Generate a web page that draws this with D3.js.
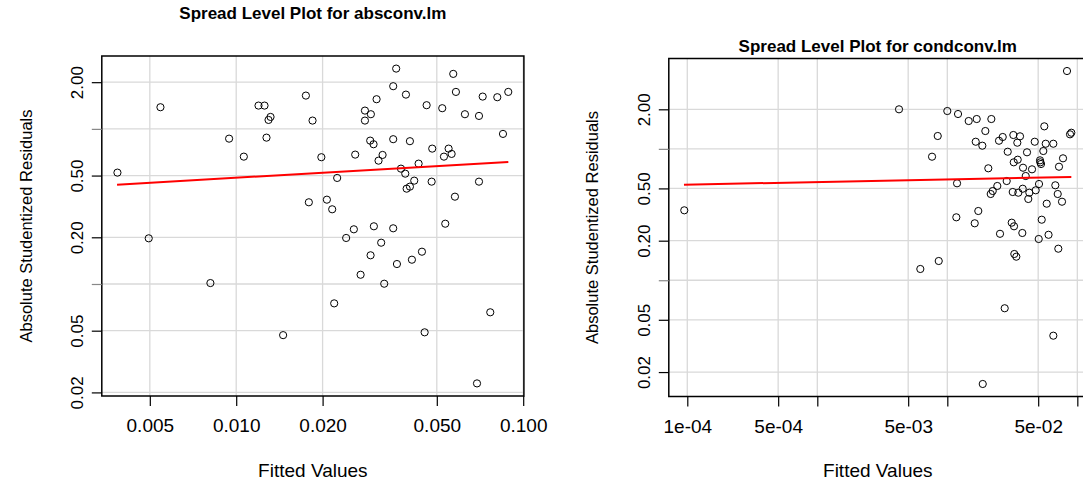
<!DOCTYPE html>
<html><head><meta charset="utf-8">
<script src="https://cdn.jsdelivr.net/npm/d3@7/dist/d3.min.js"></script>
<style>body{margin:0;background:#fff}svg{display:block;font-family:"Liberation Sans",Arial,sans-serif}</style>
</head><body><svg id="c" width="1083" height="484"></svg>
<script>
// ---------- data: left panel (absconv.lm) ----------
const absFitted = [0.003856,0.005445,0.004957,0.009445,0.01063,0.01196,0.01255,0.01317,0.01296,0.01275,
0.00813,0.01457,0.01749,0.01845,0.01791,0.0198,0.0207,0.0216,0.02248,0.03609,
0.05705,0.03524,0.03903,0.03084,0.02809,0.02946,0.02809,0.04608,0.05223,0.05829,
0.07225,0.08123,0.08871,0.06266,0.07014,0.08503,0.0293,0.0301,0.03524,0.0403,
0.0482,0.05497,0.05631,0.05295,0.02598,0.03236,0.03133,0.04321,0.0375,0.03882,
0.04172,0.0403,0.03925,0.04797,0.07014,0.05783,0.0257,0.02416,0.03018,0.03524,
0.032,0.05351,0.04438,0.02939,0.04095,0.03631,0.02713,0.03279,0.02195,0.07678,
0.04535,0.06903];
const absResid = [0.5223,1.379,0.197,0.865,0.6622,1.413,1.413,1.194,1.142,0.878,
0.1014,0.0468,1.639,1.131,0.3363,0.6566,0.3496,0.3031,0.4827,2.447,
2.262,1.884,1.663,1.553,1.312,1.243,1.131,1.421,1.359,1.731,
1.615,1.60,1.731,1.243,1.212,0.928,0.840,0.796,0.858,0.833,
0.746,0.746,0.6896,0.6622,0.6825,0.6792,0.624,0.5969,0.5542,0.5144,
0.4637,0.4242,0.4117,0.4568,0.4568,0.3655,0.2252,0.198,0.2355,0.2286,
0.1846,0.2447,0.1615,0.1531,0.1434,0.1345,0.1147,0.1004,0.075,0.0657,
0.0488,0.02286];
const absFitLineX = [0.003844, 0.08873];
const absFitLineY = [0.4369, 0.612];

// ---------- data: right panel (condconv.lm) ----------
const condFitted = [9.48e-5,0.08329,0.004251,0.01,0.01209,0.0146,0.01683,0.02181,0.05573,0.00844,
0.01961,0.08785,0.08991,0.01654,0.01859,0.02498,0.02668,0.0322,0.03624,0.03455,
0.04703,0.05713,0.06537,0.05475,0.02915,0.04102,0.00763,0.03479,0.03243,0.05164,
0.05192,0.05257,0.07762,0.07229,0.03823,0.04482,0.02067,0.04009,0.02863,0.01188,
0.05074,0.06773,0.02424,0.02235,0.02157,0.03185,0.03517,0.03802,0.04274,0.04786,
0.07067,0.04197,0.05815,0.07624,0.01731,0.01173,0.01625,0.03129,0.03259,0.05323,
0.02543,0.03775,0.06006,0.05047,0.07141,0.03276,0.03394,0.00859,0.0062,0.02763,
0.06537,0.01873];
const condResid = [0.3406,3.913,2.0,1.941,1.842,1.629,1.687,1.687,1.484,1.253,
1.367,1.290,1.327,1.133,1.057,1.153,1.231,1.275,1.246,1.114,
1.133,1.094,1.094,0.963,0.951,0.9415,0.8716,0.8269,0.790,0.818,
0.790,0.767,0.8474,0.7313,0.7186,0.6987,0.7112,0.6215,0.569,0.5468,
0.5402,0.528,0.5217,0.4777,0.4533,0.4694,0.4637,0.4973,0.4637,0.4837,
0.4533,0.4154,0.3825,0.396,0.3365,0.3013,0.2713,0.2742,0.2574,0.2889,
0.2257,0.2289,0.2218,0.206,0.1738,0.1584,0.1511,0.1401,0.1218,0.0612,
0.03784,0.01623];
const condFitLineX = [9.43e-5, 0.08991];
const condFitLineY = [0.5337, 0.6107];

// ---------- ticks ----------
const yTickValues = [2, 1, 0.5, 0.2, 0.1, 0.05, 0.02];
const yTickLabels = ["2.00", "", "0.50", "0.20", "", "0.05", "0.02"];
const absXTickValues = [0.005, 0.01, 0.02, 0.05, 0.1];
const absXTickLabels = ["0.005", "0.010", "0.020", "0.050", "0.100"];
const condXTickValues = [1e-4, 5e-4, 1e-3, 5e-3, 1e-2, 5e-2, 1e-1];
const condXTickLabels = ["1e-04", "5e-04", "", "5e-03", "", "5e-02", ""];

const titles = ["Spread Level Plot for absconv.lm", "Spread Level Plot for condconv.lm"];
const xTitle = "Fitted Values";
const yTitle = "Absolute Studentized Residuals";

const svg = d3.select("#c");
const FONT = "Liberation Sans, Arial, sans-serif";

function paddedLogDomain(vals) {
  const lo = Math.log10(d3.min(vals)), hi = Math.log10(d3.max(vals));
  const p = (hi - lo) * 0.04;
  return [Math.pow(10, lo - p), Math.pow(10, hi + p)];
}

function panel(o) {
  const g = svg.append("g");
  const x = d3.scaleLog().domain(paddedLogDomain(o.fx)).range([o.left, o.right]);
  const y = d3.scaleLog().domain(paddedLogDomain(o.ry)).range([o.bottom, o.top]);
  const id = "clip" + o.key;
  svg.append("clipPath").attr("id", id).append("rect")
    .attr("x", o.left).attr("y", o.top).attr("width", o.right - o.left).attr("height", o.bottom - o.top);
  const inner = g.append("g").attr("clip-path", `url(#${id})`);
  // grid
  inner.selectAll(".gx").data(o.xt).enter().append("line")
    .attr("x1", d => x(d)).attr("x2", d => x(d)).attr("y1", o.top).attr("y2", o.bottom)
    .attr("stroke", "#d9d9d9").attr("stroke-width", 1.3);
  inner.selectAll(".gy").data(yTickValues).enter().append("line")
    .attr("y1", d => y(d)).attr("y2", d => y(d)).attr("x1", o.left).attr("x2", o.right)
    .attr("stroke", "#d9d9d9").attr("stroke-width", 1.3);
  // points
  inner.selectAll("circle").data(o.fx.map((f, i) => [f, o.ry[i]])).enter().append("circle")
    .attr("cx", d => x(d[0])).attr("cy", d => y(d[1])).attr("r", 3.6)
    .attr("fill", "none").attr("stroke", "#000").attr("stroke-width", 1);
  // fit line
  inner.append("line")
    .attr("x1", x(o.lx[0])).attr("y1", y(o.ly[0])).attr("x2", x(o.lx[1])).attr("y2", y(o.ly[1]))
    .attr("stroke", "#ff0000").attr("stroke-width", 2);
  // box
  g.append("rect").attr("x", o.left).attr("y", o.top).attr("width", o.right - o.left).attr("height", o.bottom - o.top)
    .attr("fill", "none").attr("stroke", "#000").attr("stroke-width", 1.5);
  // x axis
  const xa = d3.axisBottom(x).tickValues(o.xt).tickFormat((d, i) => o.xl[i]).tickSize(10).tickPadding(13);
  const gx = g.append("g").attr("transform", `translate(0,${o.bottom})`).call(xa);
  gx.select(".domain").remove();
  gx.selectAll("line").attr("stroke", "#000").attr("stroke-width", 1.2);
  gx.selectAll("text").attr("font-size", 19).attr("fill", "#000").attr("font-family", FONT);
  // y axis
  const ya = d3.axisLeft(y).tickValues(yTickValues).tickFormat((d, i) => yTickLabels[i]).tickSize(10).tickPadding(0);
  const gy = g.append("g").attr("transform", `translate(${o.left},0)`).call(ya);
  gy.select(".domain").remove();
  gy.selectAll("line").attr("stroke", (d, i) => yTickLabels[i] ? "#000" : "#888").attr("stroke-width", 1.2);
  gy.selectAll("text").attr("font-size", 17).attr("fill", "#000").attr("font-family", FONT)
    .attr("text-anchor", "middle").attr("x", 0).attr("dy", 0)
    .attr("transform", "translate(-19,0) rotate(-90)");
  // titles
  svg.append("text").attr("x", (o.left + o.right) / 2).attr("y", o.titleY)
    .attr("text-anchor", "middle").attr("font-weight", "bold").attr("font-size", 17).text(o.title);
  svg.append("text").attr("x", (o.left + o.right) / 2).attr("y", 477)
    .attr("text-anchor", "middle").attr("font-size", 19).text(xTitle);
  svg.append("text").attr("transform", `translate(${o.yTitleX},${(o.top + o.bottom) / 2}) rotate(-90)`)
    .attr("text-anchor", "middle").attr("font-size", 16.5).text(yTitle);
}

panel({key: "a", fx: absFitted, ry: absResid, lx: absFitLineX, ly: absFitLineY,
  xt: absXTickValues, xl: absXTickLabels, left: 101.8, right: 523.9, top: 56, bottom: 396,
  title: titles[0], titleY: 19, yTitleX: 32});
panel({key: "b", fx: condFitted, ry: condResid, lx: condFitLineX, ly: condFitLineY,
  xt: condXTickValues, xl: condXTickLabels, left: 668.8, right: 1086.8, top: 58.5, bottom: 396.5,
  title: titles[1], titleY: 52, yTitleX: 598});
</script></body></html>
